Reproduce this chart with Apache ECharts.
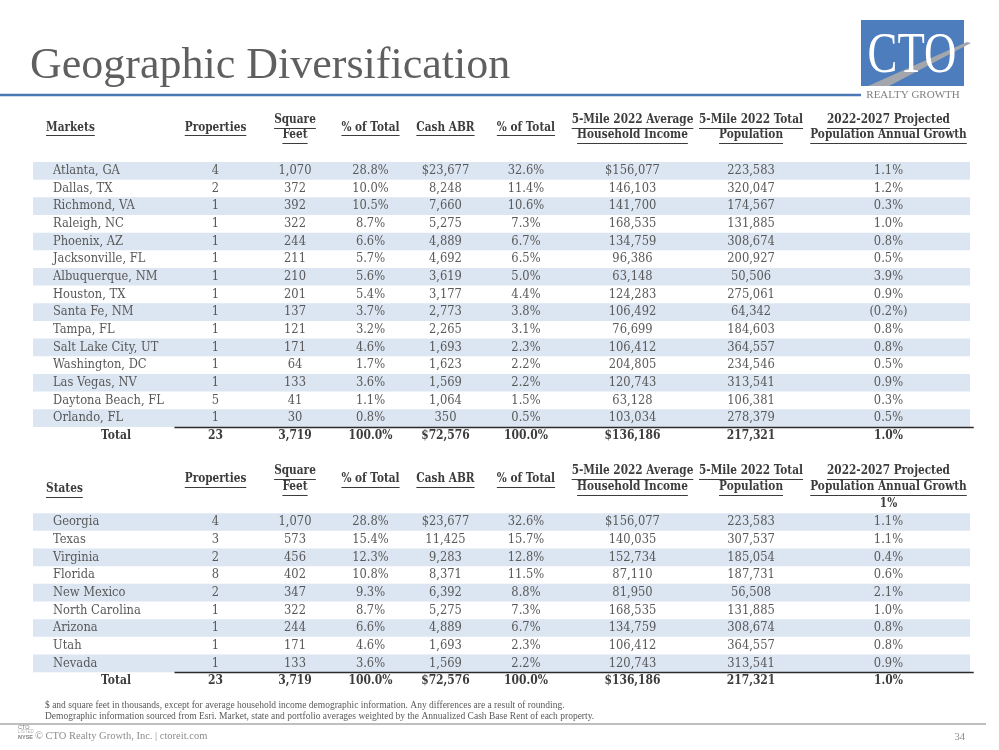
<!DOCTYPE html>
<html><head><meta charset="utf-8">
<script src="https://cdn.jsdelivr.net/npm/echarts@6/dist/echarts.min.js"></script>
<style>html,body{margin:0;padding:0;background:#fff}#chart{width:999px;height:750px}</style>
</head><body><div id="chart"></div>
<script>
// ---------------- DATA ----------------
const columnHeaders = [
  ['Properties'], ['Square', 'Feet'], ['% of Total'], ['Cash ABR'], ['% of Total'],
  ['5-Mile 2022 Average', 'Household Income'], ['5-Mile 2022 Total', 'Population'],
  ['2022-2027 Projected', 'Population Annual Growth']
];
const stateGrowthNote = '1%';

const marketNames = ['Atlanta, GA','Dallas, TX','Richmond, VA','Raleigh, NC','Phoenix, AZ','Jacksonville, FL','Albuquerque, NM','Houston, TX','Santa Fe, NM','Tampa, FL','Salt Lake City, UT','Washington, DC','Las Vegas, NV','Daytona Beach, FL','Orlando, FL'];
const marketProperties = [4,2,1,1,1,1,1,1,1,1,1,1,1,5,1];
const marketSqFt = [1070,372,392,322,244,211,210,201,137,121,171,64,133,41,30];
const marketSqFtPct = [28.8,10.0,10.5,8.7,6.6,5.7,5.6,5.4,3.7,3.2,4.6,1.7,3.6,1.1,0.8];
const marketCashABR = [23677,8248,7660,5275,4889,4692,3619,3177,2773,2265,1693,1623,1569,1064,350];
const marketABRPct = [32.6,11.4,10.6,7.3,6.7,6.5,5.0,4.4,3.8,3.1,2.3,2.2,2.2,1.5,0.5];
const marketIncome = [156077,146103,141700,168535,134759,96386,63148,124283,106492,76699,106412,204805,120743,63128,103034];
const marketPopulation = [223583,320047,174567,131885,308674,200927,50506,275061,64342,184603,364557,234546,313541,106381,278379];
const marketGrowth = [1.1,1.2,0.3,1.0,0.8,0.5,3.9,0.9,-0.2,0.8,0.8,0.5,0.9,0.3,0.5];

const stateNames = ['Georgia','Texas','Virginia','Florida','New Mexico','North Carolina','Arizona','Utah','Nevada'];
const stateProperties = [4,3,2,8,2,1,1,1,1];
const stateSqFt = [1070,573,456,402,347,322,244,171,133];
const stateSqFtPct = [28.8,15.4,12.3,10.8,9.3,8.7,6.6,4.6,3.6];
const stateCashABR = [23677,11425,9283,8371,6392,5275,4889,1693,1569];
const stateABRPct = [32.6,15.7,12.8,11.5,8.8,7.3,6.7,2.3,2.2];
const stateIncome = [156077,140035,152734,87110,81950,168535,134759,106412,120743];
const statePopulation = [223583,307537,185054,187731,56508,131885,308674,364557,313541];
const stateGrowth = [1.1,1.1,0.4,0.6,2.1,1.0,0.8,0.8,0.9];

const totalLabel = 'Total';
const totalValues = [23, 3719, 100.0, 72576, 100.0, 136186, 217321, 1.0];

// ---------------- FORMAT ----------------
const commas = v => v.toString().replace(/\B(?=(\d{3})+(?!\d))/g, ',');
const pct = v => v < 0 ? '(' + Math.abs(v).toFixed(1) + '%)' : v.toFixed(1) + '%';
const colFormat = [
  (v) => String(v),
  (v) => commas(v),
  (v) => pct(v),
  (v, first) => (first ? '$' : '') + commas(v),
  (v) => pct(v),
  (v, first) => (first ? '$' : '') + commas(v),
  (v) => commas(v),
  (v) => pct(v)
];

// ---------------- LAYOUT / STYLE ----------------
const FONT = 'DejaVu Serif';
const BODY = { size: 12.5, weight: 'normal', color: '#595959', scale: 0.92 };
const HEAD = { size: 13, weight: 'bold', color: '#3c3c3c', scale: 0.81 };
const TOT = { size: 12.5, weight: 'bold', color: '#3c3c3c', scale: 0.86 };
const BAND_COLOR = '#dce6f2';
const COL = { header0: 1.39, name: 2.13, total: 8.86, lineStart: 15.1,
  cols: [19.48, 27.96, 36.02, 44.02, 52.61, 63.98, 76.63, 91.30] };

const mctx = document.createElement('canvas').getContext('2d');
function measure(t, c) {
  mctx.font = c.weight + ' ' + c.size + 'px "' + FONT + '"';
  return mctx.measureText(t).width * c.scale;
}

function buildTable(gridIndex, names, cols, hdr) {
  const n = names.length;
  const cells = [];
  const add = (x, y, text, align, st, underline) => cells.push(Object.assign({ x, y, text, align: align || 'center', underline: !!underline }, st));
  add(COL.header0, hdr.firstY, hdr.first, 'left', HEAD, true);
  columnHeaders.forEach((lines, j) => {
    if (lines.length === 1) add(COL.cols[j], hdr.single, lines[0], 'center', HEAD, true);
    else { add(COL.cols[j], hdr.line1, lines[0], 'center', HEAD, true); add(COL.cols[j], hdr.line2, lines[1], 'center', HEAD, true); }
  });
  if (hdr.note) add(COL.cols[7], hdr.note.y, hdr.note.text, 'center', HEAD, false);
  names.forEach((nm, i) => {
    add(COL.name, i + 0.5, nm, 'left', BODY);
    cols.forEach((arr, j) => add(COL.cols[j], i + 0.5, colFormat[j](arr[i], i === 0), 'center', BODY));
  });
  add(COL.total, n + 0.5, totalLabel, 'center', TOT);
  totalValues.forEach((v, j) => add(COL.cols[j], n + 0.5, colFormat[j](v, true), 'center', TOT));

  const bandRows = names.map((_, i) => i).filter(i => i % 2 === 0);
  return [
    {
      type: 'custom', xAxisIndex: gridIndex, yAxisIndex: gridIndex, silent: true, z: 1,
      data: bandRows.map(i => [i]),
      renderItem: (params, api) => {
        const r = api.value(0);
        const p0 = api.coord([0, r]), p1 = api.coord([100, r + 1]);
        return { type: 'rect', shape: { x: p0[0], y: p0[1], width: p1[0] - p0[0], height: p1[1] - p0[1] }, style: { fill: BAND_COLOR } };
      }
    },
    {
      type: 'custom', xAxisIndex: gridIndex, yAxisIndex: gridIndex, silent: true, z: 2,
      data: [[n]],
      renderItem: (params, api) => {
        const r = api.value(0);
        const p0 = api.coord([COL.lineStart, r]), p1 = api.coord([100.4, r]);
        const y = Math.round(p0[1]) + 0.5;
        return { type: 'line', shape: { x1: p0[0], y1: y, x2: p1[0], y2: y }, style: { stroke: '#2b2b2b', lineWidth: 1.6 } };
      }
    },
    {
      type: 'custom', xAxisIndex: gridIndex, yAxisIndex: gridIndex, silent: true, z: 3,
      data: cells.map(c => [c.x, c.y]),
      renderItem: (params, api) => {
        const c = cells[params.dataIndex];
        const p = api.coord([api.value(0), api.value(1)]);
        const txt = { type: 'text', x: p[0], y: p[1], scaleX: c.scale, style: { text: c.text, fill: c.color, fontSize: c.size, fontFamily: FONT, fontWeight: c.weight, align: c.align, verticalAlign: 'middle' } };
        if (!c.underline) return txt;
        const w = measure(c.text, c);
        const x1 = c.align === 'left' ? p[0] : p[0] - w / 2;
        const uy = Math.round(p[1] + c.size * 0.6) + 0.5;
        return { type: 'group', children: [txt, { type: 'line', shape: { x1: x1, y1: uy, x2: x1 + w, y2: uy }, style: { stroke: c.color, lineWidth: 1 } }] };
      }
    }
  ];
}

const marketCols = [marketProperties, marketSqFt, marketSqFtPct, marketCashABR, marketABRPct, marketIncome, marketPopulation, marketGrowth];
const stateCols = [stateProperties, stateSqFt, stateSqFtPct, stateCashABR, stateABRPct, stateIncome, statePopulation, stateGrowth];

const ROW_H = 17.66;
const grids = [
  { left: 33, width: 937, top: 162, height: ROW_H * (marketNames.length + 1) },
  { left: 33, width: 937, top: 513.2, height: ROW_H * (stateNames.length + 1) }
];

const chart = echarts.init(document.getElementById('chart'), null, { renderer: 'canvas' });
const footStyle = { fill: '#595959', fontSize: 9.5, fontFamily: 'Liberation Serif' };
chart.setOption({
  animation: false,
  backgroundColor: '#ffffff',
  grid: grids,
  xAxis: grids.map((g, i) => ({ type: 'value', gridIndex: i, min: 0, max: 100, show: false })),
  yAxis: [
    { type: 'value', gridIndex: 0, min: 0, max: marketNames.length + 1, inverse: true, show: false },
    { type: 'value', gridIndex: 1, min: 0, max: stateNames.length + 1, inverse: true, show: false }
  ],
  series: [
    ...buildTable(0, marketNames, marketCols, { first: 'Markets', firstY: -1.96, line1: -2.38, line2: -1.53, single: -1.96 }),
    ...buildTable(1, stateNames, stateCols, { first: 'States', firstY: -1.38, line1: -2.39, line2: -1.49, single: -1.94, note: { text: stateGrowthNote, y: -0.52 } })
  ],
  graphic: { elements: [
    { type: 'text', left: 30, top: 44, style: { text: 'Geographic Diversification', fill: '#5f5f5f', fontSize: 44, fontFamily: 'Liberation Serif' } },
    { type: 'line', shape: { x1: 0, y1: 95, x2: 861, y2: 95 }, style: { stroke: '#4a78b4', lineWidth: 2.5 } },
    { type: 'rect', shape: { x: 861, y: 20, width: 103, height: 66 }, style: { fill: '#4d7dbd' } },
    { type: 'polygon', shape: { points: [[868, 86], [889, 86], [971, 43], [967, 42]] }, style: { fill: '#a3a7ad' } },
    { type: 'text', x: 912, y: 57, scaleX: 0.8, style: { text: 'CTO', fill: '#ffffff', fontSize: 56, fontFamily: 'Liberation Serif', align: 'center', verticalAlign: 'middle' } },
    { type: 'text', x: 913, y: 95, style: { text: 'REALTY GROWTH', fill: '#7f7f7f', fontSize: 11, fontFamily: 'Liberation Serif', align: 'center', verticalAlign: 'middle' } },
    { type: 'text', x: 45, y: 705, style: Object.assign({ text: '$ and square feet in thousands, except for average household income demographic information. Any differences are a result of rounding.', verticalAlign: 'middle' }, footStyle) },
    { type: 'text', x: 45, y: 716, style: Object.assign({ text: 'Demographic information sourced from Esri. Market, state and portfolio averages weighted by the Annualized Cash Base Rent of each property.', verticalAlign: 'middle' }, footStyle) },
    { type: 'line', shape: { x1: 0, y1: 724, x2: 986, y2: 724 }, style: { stroke: '#bfbfbf', lineWidth: 2 } },
    { type: 'text', x: 18, y: 727, style: { text: 'CTO', fill: '#7f7f7f', fontSize: 5.5, fontFamily: 'Liberation Sans', verticalAlign: 'middle' } },
    { type: 'text', x: 18, y: 732, style: { text: 'LISTED', fill: '#b0b0b0', fontSize: 4.5, fontFamily: 'Liberation Sans', verticalAlign: 'middle' } },
    { type: 'text', x: 18, y: 737, style: { text: 'NYSE', fill: '#7f7f7f', fontSize: 5.5, fontFamily: 'Liberation Sans', fontWeight: 'bold', verticalAlign: 'middle' } },
    { type: 'text', x: 35, y: 736, style: { text: '© CTO Realty Growth, Inc. | ctoreit.com', fill: '#8c8c8c', fontSize: 10.5, fontFamily: 'Liberation Serif', verticalAlign: 'middle' } },
    { type: 'text', x: 965, y: 737, style: { text: '34', fill: '#8c8c8c', fontSize: 10.5, fontFamily: 'Liberation Serif', align: 'right', verticalAlign: 'middle' } }
  ] }
});
</script></body></html>
